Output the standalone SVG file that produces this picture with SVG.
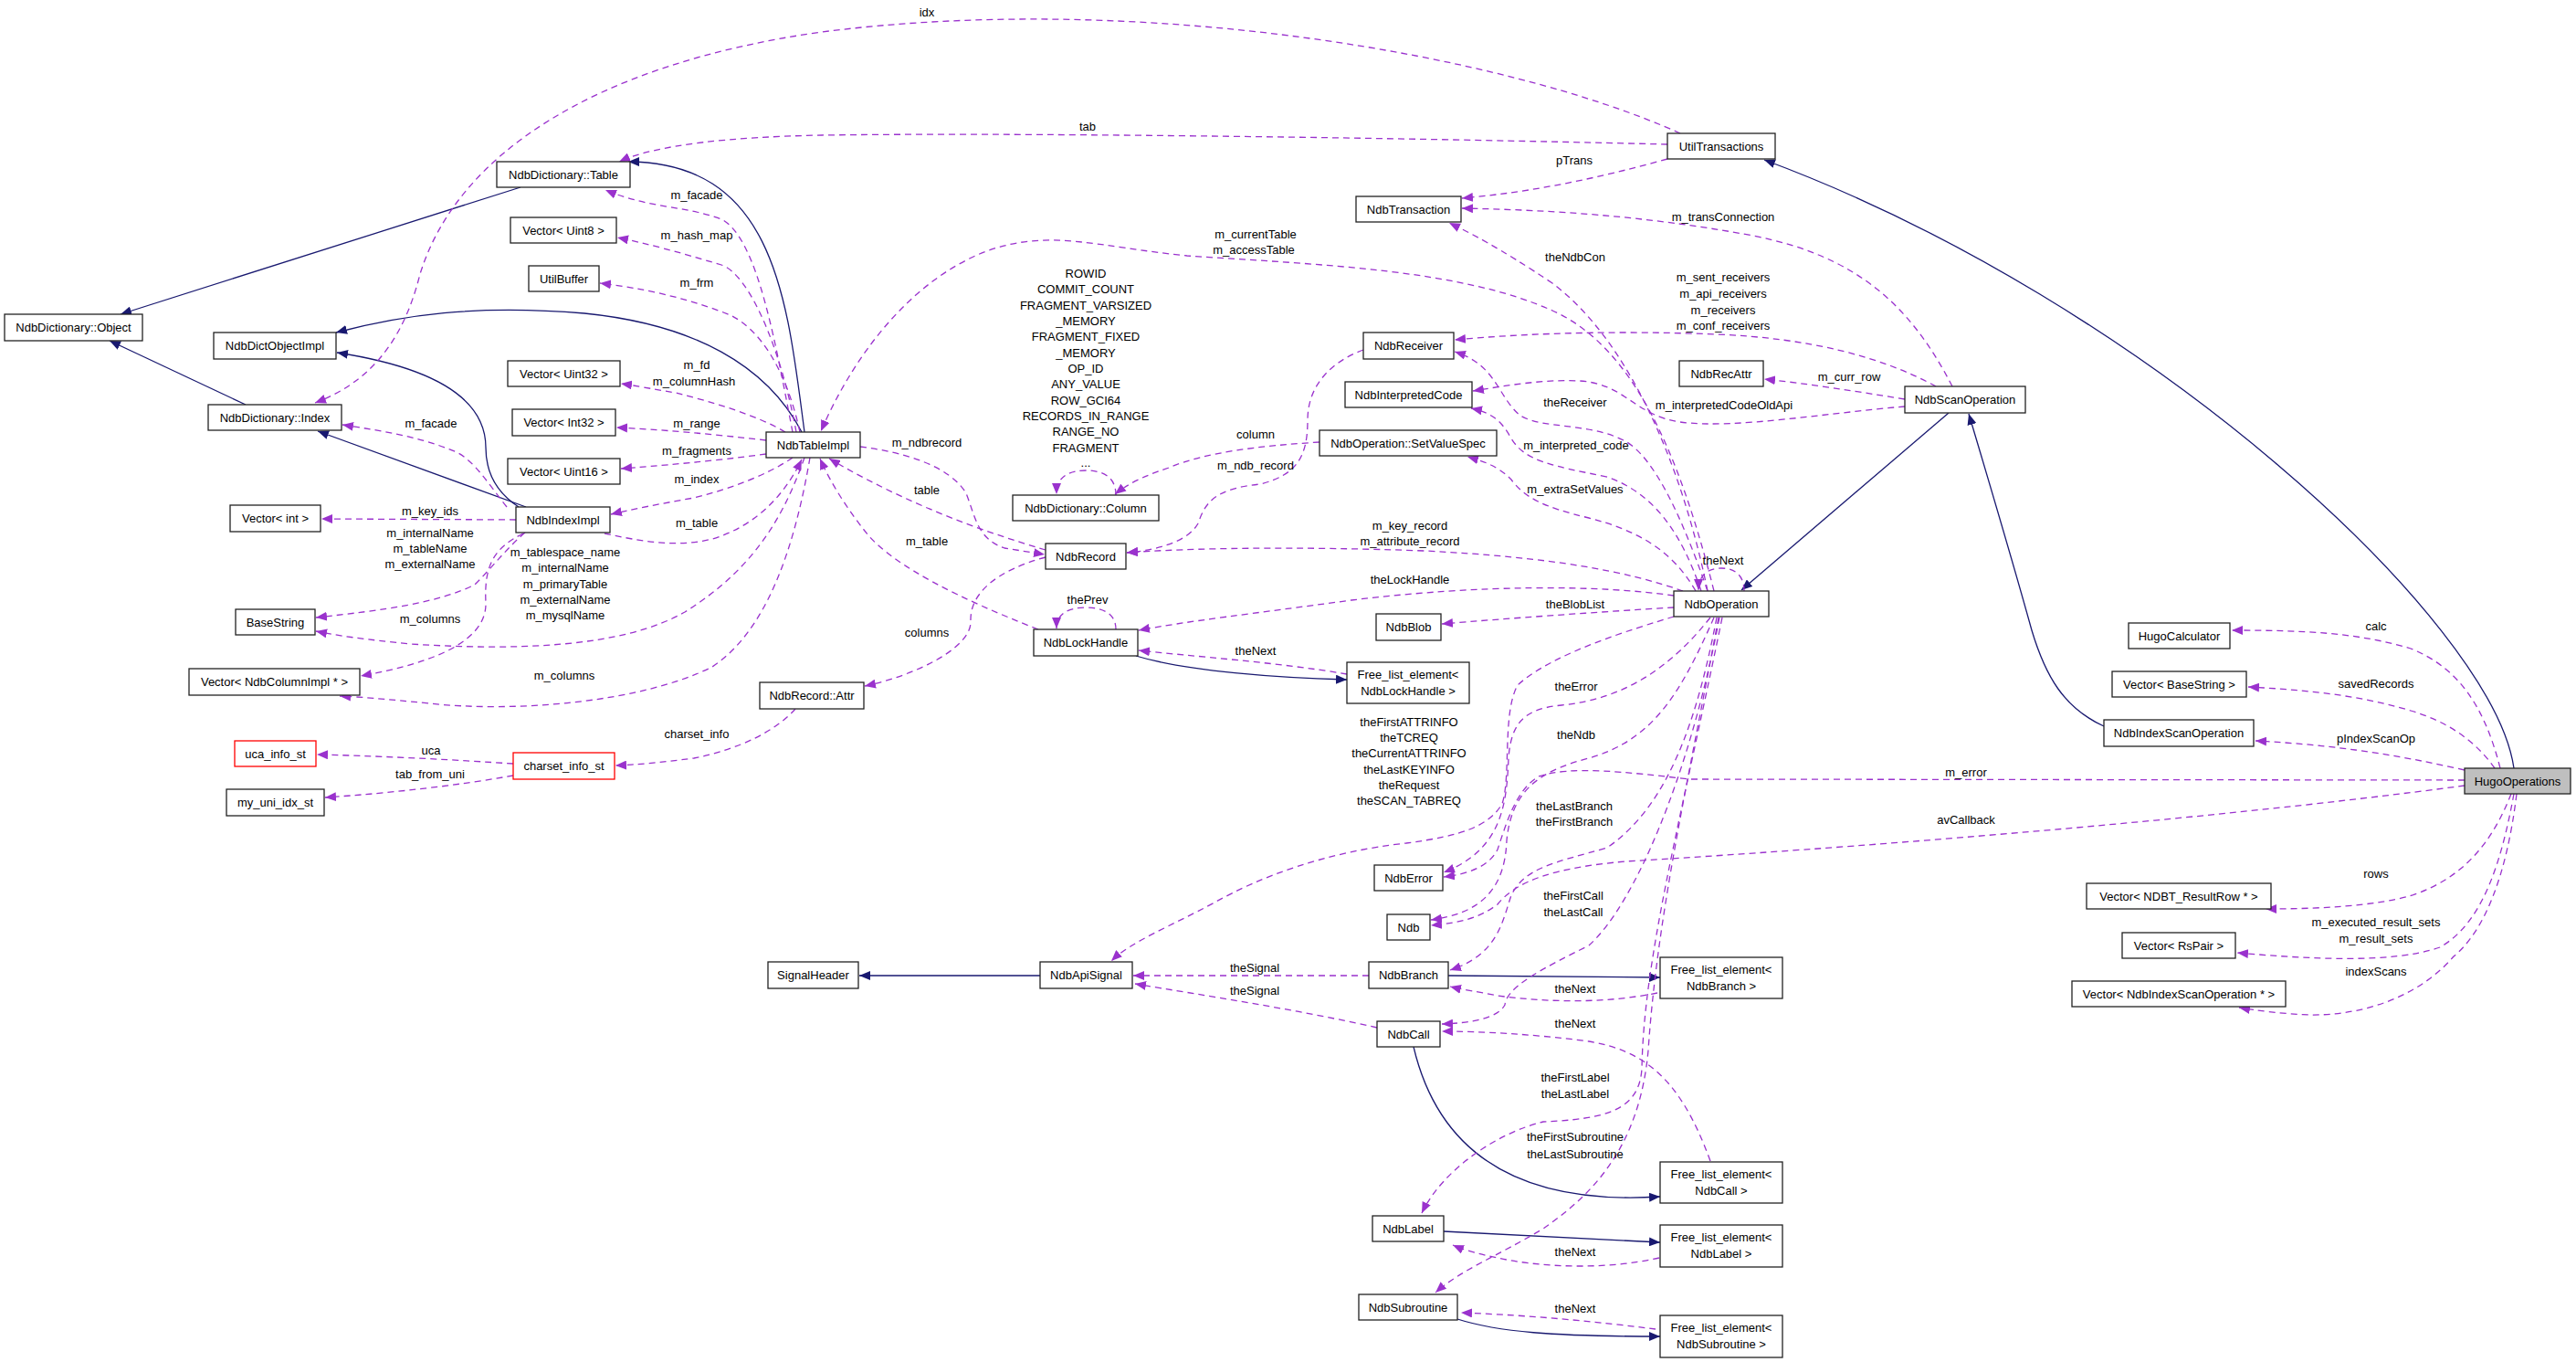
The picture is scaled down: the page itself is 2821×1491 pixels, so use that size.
<svg xmlns="http://www.w3.org/2000/svg" width="2821" height="1491" viewBox="0 0 2821 1491">
<style>
text{font-family:"Liberation Sans",Arial,sans-serif;font-size:13px;fill:#000;text-anchor:middle}
.n rect{fill:#fff;stroke:#222;stroke-width:1.3}
.r rect{fill:#fff;stroke:#f00;stroke-width:1.3}
.g rect{fill:#bfbfbf;stroke:#222;stroke-width:1.3}
.e{fill:none;stroke:#9a32cd;stroke-width:1.3;stroke-dasharray:7,5;marker-end:url(#pa)}
.i{fill:none;stroke:#191970;stroke-width:1.3;marker-end:url(#ba)}
</style>
<defs>
<marker id="pa" markerWidth="13" markerHeight="10" refX="12" refY="5" orient="auto" markerUnits="userSpaceOnUse"><path d="M0,0 L12,5 L0,10 z" fill="#9a32cd"/></marker>
<marker id="ba" markerWidth="13" markerHeight="10" refX="12" refY="5" orient="auto" markerUnits="userSpaceOnUse"><path d="M0,0 L12,5 L0,10 z" fill="#191970"/></marker>
</defs>
<rect width="2821" height="1491" fill="#fff"/>
<g id="connectors">
<path class="i" d="M570,205 L132,344"/>
<path class="i" d="M269,443 L120,373"/>
<path class="i" d="M881,473 C862,330 850,178 688,177"/>
<path class="i" d="M878,473 C840,400 760,355 640,343 C520,333 440,345 368,364"/>
<path class="i" d="M568,555 C545,540 532,520 532,490 C532,430 460,400 369,386"/>
<path class="i" d="M576,555 L348,472"/>
<path class="i" d="M1244,718 C1300,735 1400,742 1475,744"/>
<path class="i" d="M1139,1068 L941,1068"/>
<path class="i" d="M1586,1068 L1818,1070"/>
<path class="i" d="M1548,1146 C1575,1260 1660,1320 1818,1310"/>
<path class="i" d="M1581,1348 L1818,1360"/>
<path class="i" d="M1596,1444 C1640,1458 1700,1463 1818,1463"/>
<path class="i" d="M2134,452 L1907,646"/>
<path class="i" d="M2304,795 C2260,775 2240,740 2225,690 C2200,600 2170,500 2156,453"/>
<path class="i" d="M2753,841 C2730,680 2350,330 1932,175"/>

<path class="e" d="M1840,146 C1650,60 1250,-10 900,35 C650,70 500,170 460,300 C440,380 400,420 345,441"/>
<text x="1015" y="18">idx</text>
<path class="e" d="M1826,158 C1500,150 1100,145 900,148 C800,150 720,158 678,177"/>
<text x="1191" y="143">tab</text>
<path class="e" d="M1826,174 C1750,195 1680,210 1601,217"/>
<text x="1724" y="180">pTrans</text>
<path class="e" d="M2138,423 C2090,330 2030,280 1920,258 C1800,236 1700,230 1601,228"/>
<text x="1887" y="242">m_transConnection</text>
<path class="e" d="M1870,647 C1840,500 1780,370 1700,310 C1640,270 1610,255 1587,244"/>
<text x="1725" y="286">theNdbCon</text>
<path class="e" d="M1877,647 C1840,500 1790,380 1700,340 C1600,295 1450,290 1300,280 C1200,270 1150,250 1080,275 C990,310 930,400 899,472"/>
<text x="1375" y="261">m_currentTable</text>
<text x="1373" y="278">m_accessTable</text>
<path class="e" d="M2120,423 C2060,390 1980,370 1880,366 C1780,362 1680,364 1593,372"/>
<text x="1887" y="308">m_sent_receivers</text>
<text x="1887" y="326">m_api_receivers</text>
<text x="1887" y="344">m_receivers</text>
<text x="1887" y="361">m_conf_receivers</text>
<path class="e" d="M2086,437 C2030,428 1980,420 1932,415"/>
<text x="2025" y="417">m_curr_row</text>
<path class="e" d="M2086,445 C2000,452 1900,470 1840,462 C1790,455 1780,420 1730,417 C1690,415 1650,422 1613,428"/>
<text x="1888" y="448">m_interpretedCodeOldApi</text>
<path class="e" d="M1870,647 C1840,560 1810,500 1780,483 C1740,462 1690,470 1665,455 C1640,435 1640,400 1593,385"/>
<text x="1725" y="445">theReceiver</text>
<path class="e" d="M1863,647 C1840,580 1810,540 1760,522 C1700,510 1670,505 1655,480 C1645,462 1635,452 1611,447"/>
<text x="1726" y="492">m_interpreted_code</text>
<path class="e" d="M1857,647 C1830,600 1790,580 1740,567 C1690,555 1670,545 1655,525 C1640,510 1625,505 1607,500"/>
<text x="1725" y="540">m_extraSetValues</text>
<path class="e" d="M1445,484 C1380,488 1320,495 1280,512 C1250,522 1235,530 1221,541"/>
<text x="1375" y="480">column</text>
<path class="e" d="M1493,383 C1460,395 1432,420 1432,460 C1432,500 1420,520 1380,530 C1330,535 1320,550 1312,573 C1300,595 1260,603 1234,605"/>
<text x="1375" y="514">m_ndb_record</text>
<path class="e" d="M1222,542 C1222,520 1205,515 1189,515 C1170,515 1157,522 1157,541"/>
<text x="1189" y="304">ROWID</text>
<text x="1189" y="321">COMMIT_COUNT</text>
<text x="1189" y="339">FRAGMENT_VARSIZED</text>
<text x="1189" y="356">_MEMORY</text>
<text x="1189" y="373">FRAGMENT_FIXED</text>
<text x="1189" y="391">_MEMORY</text>
<text x="1189" y="408">OP_ID</text>
<text x="1189" y="425">ANY_VALUE</text>
<text x="1189" y="443">ROW_GCI64</text>
<text x="1189" y="460">RECORDS_IN_RANGE</text>
<text x="1189" y="477">RANGE_NO</text>
<text x="1189" y="495">FRAGMENT</text>
<text x="1189" y="511">...</text>
<path class="e" d="M942,489 C990,495 1040,510 1058,540 C1068,565 1070,590 1100,600 L1144,607"/>
<text x="1015" y="489">m_ndbrecord</text>
<path class="e" d="M1145,602 C1070,580 990,550 908,502"/>
<text x="1015" y="541">table</text>
<path class="e" d="M1137,689 C1050,655 980,620 950,585 C930,560 910,530 898,502"/>
<text x="1015" y="597">m_table</text>
<path class="e" d="M1145,610 C1090,625 1062,650 1063,680 C1064,710 1000,740 947,751"/>
<text x="1015" y="697">columns</text>
<path class="e" d="M1222,689 C1222,670 1205,665 1189,665 C1170,665 1157,672 1157,688"/>
<text x="1191" y="661">thePrev</text>
<path class="e" d="M1475,738 C1400,725 1300,718 1247,712"/>
<text x="1375" y="717">theNext</text>
<path class="e" d="M1833,652 C1750,640 1620,640 1480,657 C1370,672 1300,680 1247,690"/>
<text x="1544" y="639">theLockHandle</text>
<path class="e" d="M1843,647 C1780,625 1700,610 1560,603 C1420,598 1300,600 1234,605"/>
<text x="1544" y="580">m_key_record</text>
<text x="1544" y="597">m_attribute_record</text>
<path class="e" d="M1833,665 C1750,670 1650,677 1579,683"/>
<text x="1725" y="666">theBlobList</text>
<path class="e" d="M1910,647 C1910,630 1900,622 1885,622 C1868,622 1860,632 1860,646"/>
<text x="1887" y="618">theNext</text>
<path class="e" d="M1873,676 C1830,730 1780,765 1710,772 C1670,776 1655,790 1652,830 C1650,880 1645,930 1581,955"/>
<text x="1726" y="756">theError</text>
<path class="e" d="M2699,854 L1850,853 C1780,845 1720,838 1685,850 C1660,865 1650,900 1640,930 C1630,950 1605,957 1581,960"/>
<text x="2153" y="850">m_error</text>
<path class="e" d="M1877,676 C1840,760 1810,810 1740,830 C1680,845 1655,870 1650,920 C1648,975 1620,1000 1567,1007"/>
<text x="1726" y="809">theNdb</text>
<path class="e" d="M2699,860 C2400,900 2000,930 1780,943 C1700,950 1660,965 1640,990 C1620,1005 1600,1010 1567,1013"/>
<text x="2153" y="902">avCallback</text>
<path class="e" d="M1833,675 C1790,688 1700,715 1662,750 C1645,780 1655,850 1645,880 C1630,905 1600,915 1540,923 C1450,933 1380,960 1330,988 C1280,1015 1240,1030 1217,1052"/>
<text x="1543" y="795">theFirstATTRINFO</text>
<text x="1543" y="812">theTCREQ</text>
<text x="1543" y="829">theCurrentATTRINFO</text>
<text x="1543" y="847">theLastKEYINFO</text>
<text x="1543" y="864">theRequest</text>
<text x="1543" y="881">theSCAN_TABREQ</text>
<path class="e" d="M1880,676 C1860,780 1830,880 1760,928 C1700,945 1670,950 1655,980 C1645,1010 1640,1045 1588,1062"/>
<text x="1724" y="887">theLastBranch</text>
<text x="1724" y="904">theFirstBranch</text>
<path class="e" d="M1883,676 C1850,850 1790,990 1740,1035 C1690,1060 1650,1080 1648,1100 C1640,1115 1610,1120 1579,1121"/>
<text x="1723" y="985">theFirstCall</text>
<text x="1723" y="1003">theLastCall</text>
<path class="e" d="M1886,676 C1840,900 1800,1050 1798,1170 C1795,1215 1760,1225 1690,1228 C1640,1240 1580,1280 1557,1328"/>
<text x="1725" y="1184">theFirstLabel</text>
<text x="1725" y="1202">theLastLabel</text>
<path class="e" d="M1882,676 C1850,850 1815,1000 1805,1150 C1795,1260 1740,1310 1690,1345 C1640,1375 1600,1390 1572,1415"/>
<text x="1725" y="1249">theFirstSubroutine</text>
<text x="1725" y="1268">theLastSubroutine</text>
<path class="e" d="M1815,1087 C1760,1098 1700,1098 1640,1090 C1620,1086 1600,1083 1588,1080"/>
<text x="1725" y="1087">theNext</text>
<path class="e" d="M1873,1271 C1840,1180 1800,1150 1740,1140 C1680,1132 1620,1129 1579,1129"/>
<text x="1725" y="1125">theNext</text>
<path class="e" d="M1817,1377 C1760,1390 1690,1388 1640,1377 C1615,1372 1600,1367 1591,1363"/>
<text x="1725" y="1375">theNext</text>
<path class="e" d="M1813,1455 C1750,1447 1680,1440 1600,1437"/>
<text x="1725" y="1437">theNext</text>
<path class="e" d="M1499,1068 L1241,1068"/>
<text x="1374" y="1064">theSignal</text>
<path class="e" d="M1508,1125 C1420,1105 1320,1090 1243,1077"/>
<text x="1374" y="1089">theSignal</text>
<path class="e" d="M2738,841 C2720,770 2690,730 2640,710 C2580,692 2520,690 2444,690"/>
<text x="2602" y="690">calc</text>
<path class="e" d="M2732,841 C2710,810 2680,790 2640,778 C2580,760 2520,755 2462,752"/>
<text x="2602" y="753">savedRecords</text>
<path class="e" d="M2699,843 C2620,825 2550,815 2470,811"/>
<text x="2602" y="813">pIndexScanOp</text>
<path class="e" d="M2750,869 C2730,920 2700,960 2642,980 C2600,992 2540,995 2481,995"/>
<text x="2602" y="961">rows</text>
<path class="e" d="M2753,869 C2740,940 2720,1010 2672,1037 C2620,1055 2530,1050 2450,1043"/>
<text x="2602" y="1014">m_executed_result_sets</text>
<text x="2602" y="1032">m_result_sets</text>
<path class="e" d="M2756,869 C2745,960 2720,1020 2687,1047 C2650,1090 2590,1112 2529,1111 C2500,1110 2470,1106 2452,1103"/>
<text x="2602" y="1068">indexScans</text>
<path class="e" d="M868,473 C850,380 830,260 790,240 C750,225 710,228 663,208"/>
<text x="763" y="218">m_facade</text>
<path class="e" d="M872,473 C855,380 820,300 790,290 C740,275 710,267 676,260"/>
<text x="763" y="262">m_hash_map</text>
<path class="e" d="M876,473 C860,400 830,360 800,345 C750,325 700,315 657,310"/>
<text x="763" y="314">m_frm</text>
<path class="e" d="M860,473 C830,455 780,440 740,430 C710,425 695,422 680,420"/>
<text x="763" y="404">m_fd</text>
<text x="760" y="422">m_columnHash</text>
<path class="e" d="M839,482 C780,475 720,470 675,468"/>
<text x="763" y="468">m_range</text>
<path class="e" d="M839,497 C780,505 720,510 680,513"/>
<text x="763" y="498">m_fragments</text>
<path class="e" d="M868,501 C840,520 800,535 760,545 C720,552 690,558 669,563"/>
<text x="763" y="529">m_index</text>
<path class="e" d="M662,584 C700,592 740,600 780,590 C830,575 860,540 878,503"/>
<text x="763" y="577">m_table</text>
<path class="e" d="M565,569 L352,568"/>
<text x="471" y="564">m_key_ids</text>
<path class="e" d="M575,583 C555,600 540,620 520,640 C480,660 420,668 346,676"/>
<text x="471" y="588">m_internalName</text>
<text x="471" y="605">m_tableName</text>
<text x="471" y="622">m_externalName</text>
<path class="e" d="M881,501 C860,560 830,620 750,670 C680,710 560,712 450,705 C400,700 370,696 346,691"/>
<text x="619" y="609">m_tablespace_name</text>
<text x="619" y="626">m_internalName</text>
<text x="619" y="644">m_primaryTable</text>
<text x="619" y="661">m_externalName</text>
<text x="619" y="678">m_mysqlName</text>
<path class="e" d="M573,584 C540,600 530,620 532,660 C533,700 480,725 395,740"/>
<text x="471" y="682">m_columns</text>
<path class="e" d="M887,501 C870,600 840,690 780,730 C700,770 560,780 470,770 C420,765 395,763 372,762"/>
<text x="618" y="744">m_columns</text>
<path class="e" d="M555,555 C535,530 520,505 500,495 C460,478 420,472 375,465"/>
<text x="472" y="468">m_facade</text>
<path class="e" d="M871,776 C850,800 810,820 760,830 C720,835 700,837 674,838"/>
<text x="763" y="808">charset_info</text>
<path class="e" d="M562,836 C500,832 430,828 347,826"/>
<text x="472" y="826">uca</text>
<path class="e" d="M562,849 C500,860 430,868 356,873"/>
<text x="471" y="852">tab_from_uni</text>
</g>
<g id="n_Object" class="n"><rect x="5" y="344" width="151" height="29"/><text x="80.5" y="363">NdbDictionary::Object</text></g>
<g id="n_Table" class="n"><rect x="544" y="177" width="146" height="28"/><text x="617" y="195.5">NdbDictionary::Table</text></g>
<g id="n_DictObjectImpl" class="n"><rect x="234" y="364" width="134" height="29"/><text x="301" y="383">NdbDictObjectImpl</text></g>
<g id="n_Index" class="n"><rect x="228" y="443" width="146" height="28"/><text x="301" y="461.5">NdbDictionary::Index</text></g>
<g id="n_VecUint8" class="n"><rect x="559" y="238" width="116" height="28"/><text x="617" y="256.5">Vector&lt; Uint8 &gt;</text></g>
<g id="n_UtilBuffer" class="n"><rect x="579" y="291" width="77" height="28"/><text x="617.5" y="309.5">UtilBuffer</text></g>
<g id="n_VecUint32" class="n"><rect x="556" y="395" width="123" height="28"/><text x="617.5" y="413.5">Vector&lt; Uint32 &gt;</text></g>
<g id="n_VecInt32" class="n"><rect x="561" y="448" width="113" height="29"/><text x="617.5" y="467">Vector&lt; Int32 &gt;</text></g>
<g id="n_VecUint16" class="n"><rect x="556" y="502" width="123" height="28"/><text x="617.5" y="520.5">Vector&lt; Uint16 &gt;</text></g>
<g id="n_TableImpl" class="n"><rect x="839" y="473" width="103" height="28"/><text x="890.5" y="491.5">NdbTableImpl</text></g>
<g id="n_IndexImpl" class="n"><rect x="565" y="555" width="103" height="28"/><text x="616.5" y="573.5">NdbIndexImpl</text></g>
<g id="n_VecInt" class="n"><rect x="252" y="553" width="99" height="29"/><text x="301.5" y="572">Vector&lt; int &gt;</text></g>
<g id="n_BaseString" class="n"><rect x="258" y="667" width="87" height="28"/><text x="301.5" y="685.5">BaseString</text></g>
<g id="n_VecColumnImpl" class="n"><rect x="207" y="732" width="187" height="29"/><text x="300.5" y="751">Vector&lt; NdbColumnImpl * &gt;</text></g>
<g id="n_RecordAttr" class="n"><rect x="832" y="747" width="114" height="29"/><text x="889" y="766">NdbRecord::Attr</text></g>
<g id="n_uca" class="r"><rect x="257" y="811" width="89" height="28"/><text x="301.5" y="829.5">uca_info_st</text></g>
<g id="n_charset" class="r"><rect x="562" y="824" width="111" height="29"/><text x="617.5" y="843">charset_info_st</text></g>
<g id="n_myuni" class="n"><rect x="248" y="864" width="107" height="29"/><text x="301.5" y="883">my_uni_idx_st</text></g>
<g id="n_Column" class="n"><rect x="1109" y="542" width="160" height="28"/><text x="1189" y="560.5">NdbDictionary::Column</text></g>
<g id="n_NdbRecord" class="n"><rect x="1145" y="595" width="88" height="28"/><text x="1189" y="613.5">NdbRecord</text></g>
<g id="n_LockHandle" class="n"><rect x="1132" y="689" width="114" height="29"/><text x="1189" y="708">NdbLockHandle</text></g>
<g id="n_FLLockHandle" class="n"><rect x="1475" y="725" width="134" height="45"/><text x="1542" y="742.5">Free_list_element&lt;</text><text x="1542" y="760.5">NdbLockHandle &gt;</text></g>
<g id="n_UtilTransactions" class="n"><rect x="1826" y="146" width="118" height="28"/><text x="1885" y="164.5">UtilTransactions</text></g>
<g id="n_Transaction" class="n"><rect x="1485" y="215" width="115" height="28"/><text x="1542.5" y="233.5">NdbTransaction</text></g>
<g id="n_Receiver" class="n"><rect x="1493" y="364" width="99" height="29"/><text x="1542.5" y="383">NdbReceiver</text></g>
<g id="n_InterpretedCode" class="n"><rect x="1473" y="418" width="139" height="28"/><text x="1542.5" y="436.5">NdbInterpretedCode</text></g>
<g id="n_SetValueSpec" class="n"><rect x="1445" y="471" width="194" height="28"/><text x="1542" y="489.5">NdbOperation::SetValueSpec</text></g>
<g id="n_RecAttr" class="n"><rect x="1839" y="395" width="92" height="28"/><text x="1885" y="413.5">NdbRecAttr</text></g>
<g id="n_ScanOperation" class="n"><rect x="2086" y="423" width="132" height="29"/><text x="2152" y="442">NdbScanOperation</text></g>
<g id="n_Operation" class="n"><rect x="1833" y="647" width="104" height="28"/><text x="1885" y="665.5">NdbOperation</text></g>
<g id="n_Blob" class="n"><rect x="1507" y="672" width="71" height="29"/><text x="1542.5" y="691">NdbBlob</text></g>
<g id="n_Error" class="n"><rect x="1505" y="947" width="75" height="28"/><text x="1542.5" y="965.5">NdbError</text></g>
<g id="n_Ndb" class="n"><rect x="1519" y="1001" width="47" height="28"/><text x="1542.5" y="1019.5">Ndb</text></g>
<g id="n_SignalHeader" class="n"><rect x="841" y="1053" width="99" height="29"/><text x="890.5" y="1072">SignalHeader</text></g>
<g id="n_ApiSignal" class="n"><rect x="1139" y="1053" width="101" height="29"/><text x="1189.5" y="1072">NdbApiSignal</text></g>
<g id="n_Branch" class="n"><rect x="1499" y="1053" width="87" height="29"/><text x="1542.5" y="1072">NdbBranch</text></g>
<g id="n_Call" class="n"><rect x="1508" y="1118" width="69" height="28"/><text x="1542.5" y="1136.5">NdbCall</text></g>
<g id="n_Label" class="n"><rect x="1503" y="1331" width="78" height="28"/><text x="1542" y="1349.5">NdbLabel</text></g>
<g id="n_Subroutine" class="n"><rect x="1488" y="1417" width="108" height="28"/><text x="1542" y="1435.5">NdbSubroutine</text></g>
<g id="n_FLBranch" class="n"><rect x="1818" y="1048" width="134" height="45"/><text x="1885" y="1065.5">Free_list_element&lt;</text><text x="1885" y="1083.5">NdbBranch &gt;</text></g>
<g id="n_FLCall" class="n"><rect x="1818" y="1272" width="134" height="45"/><text x="1885" y="1289.5">Free_list_element&lt;</text><text x="1885" y="1307.5">NdbCall &gt;</text></g>
<g id="n_FLLabel" class="n"><rect x="1818" y="1341" width="134" height="46"/><text x="1885" y="1358.5">Free_list_element&lt;</text><text x="1885" y="1376.5">NdbLabel &gt;</text></g>
<g id="n_FLSubroutine" class="n"><rect x="1818" y="1440" width="134" height="46"/><text x="1885" y="1457.5">Free_list_element&lt;</text><text x="1885" y="1475.5">NdbSubroutine &gt;</text></g>
<g id="n_HugoCalculator" class="n"><rect x="2331" y="682" width="111" height="28"/><text x="2386.5" y="700.5">HugoCalculator</text></g>
<g id="n_VecBaseString" class="n"><rect x="2313" y="735" width="147" height="28"/><text x="2386.5" y="753.5">Vector&lt; BaseString &gt;</text></g>
<g id="n_IndexScanOperation" class="n"><rect x="2304" y="788" width="164" height="29"/><text x="2386" y="807">NdbIndexScanOperation</text></g>
<g id="n_HugoOperations" class="g"><rect x="2699" y="841" width="116" height="28"/><text x="2757" y="859.5">HugoOperations</text></g>
<g id="n_VecResultRow" class="n"><rect x="2285" y="967" width="202" height="28"/><text x="2386" y="985.5">Vector&lt; NDBT_ResultRow * &gt;</text></g>
<g id="n_VecRsPair" class="n"><rect x="2324" y="1021" width="124" height="28"/><text x="2386" y="1039.5">Vector&lt; RsPair &gt;</text></g>
<g id="n_VecIndexScanOp" class="n"><rect x="2269" y="1074" width="234" height="28"/><text x="2386" y="1092.5">Vector&lt; NdbIndexScanOperation * &gt;</text></g>
</svg>
